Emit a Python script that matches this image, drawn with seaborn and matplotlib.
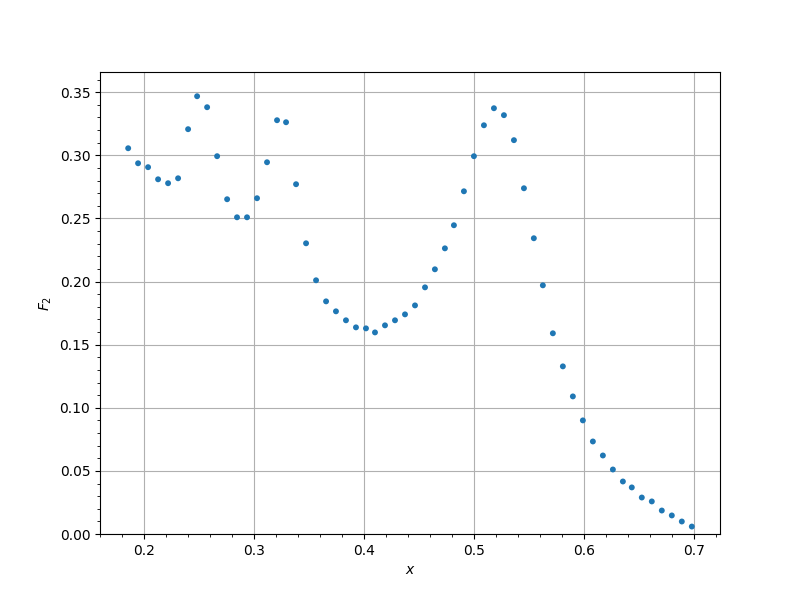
import matplotlib
matplotlib.use("Agg")
import matplotlib.pyplot as plt
import seaborn as sns
import pandas as pd

x_values = [0.1855, 0.1945, 0.2036, 0.2127, 0.2218, 0.2309, 0.2400, 0.2482, 0.2573, 0.2664,
            0.2755, 0.2845, 0.2936, 0.3027, 0.3118, 0.3209, 0.3291, 0.3382, 0.3473, 0.3564,
            0.3655, 0.3745, 0.3836, 0.3927, 0.4018, 0.4100, 0.4191, 0.4282, 0.4373, 0.4464,
            0.4555, 0.4645, 0.4736, 0.4818, 0.4909, 0.5000, 0.5091, 0.5182, 0.5273, 0.5364,
            0.5455, 0.5545, 0.5627, 0.5718, 0.5809, 0.5900, 0.5991, 0.6082, 0.6173, 0.6264,
            0.6355, 0.6436, 0.6527, 0.6618, 0.6709, 0.6800, 0.6891, 0.6982]
f2_values = [0.3056, 0.2937, 0.2906, 0.2810, 0.2779, 0.2818, 0.3207, 0.3468, 0.3381, 0.2993,
             0.2652, 0.2509, 0.2509, 0.2660, 0.2945, 0.3278, 0.3262, 0.2771, 0.2303, 0.2010,
             0.1843, 0.1764, 0.1693, 0.1637, 0.1629, 0.1597, 0.1653, 0.1693, 0.1740, 0.1811,
             0.1954, 0.2097, 0.2263, 0.2446, 0.2715, 0.2993, 0.3238, 0.3373, 0.3318, 0.3120,
             0.2739, 0.2343, 0.1970, 0.1590, 0.1328, 0.1090, 0.0900, 0.0733, 0.0622, 0.0511,
             0.0416, 0.0369, 0.0289, 0.0258, 0.0186, 0.0147, 0.0099, 0.0059]

x_label = "$x$"
y_label = "$F_2$"

df = pd.DataFrame({"x": x_values, "F2": f2_values})

fig, ax = plt.subplots(figsize=(8, 6), dpi=100)
sns.scatterplot(data=df, x="x", y="F2", ax=ax, s=18, color="#1f77b4",
                edgecolor="none", linewidth=0)
ax.set_ylim(0, 0.366)
ax.minorticks_on()
ax.grid(True, which="major")
ax.set_axisbelow(True)
ax.set_xlabel(x_label)
ax.set_ylabel(y_label)
fig.savefig("out.png", dpi=100)
